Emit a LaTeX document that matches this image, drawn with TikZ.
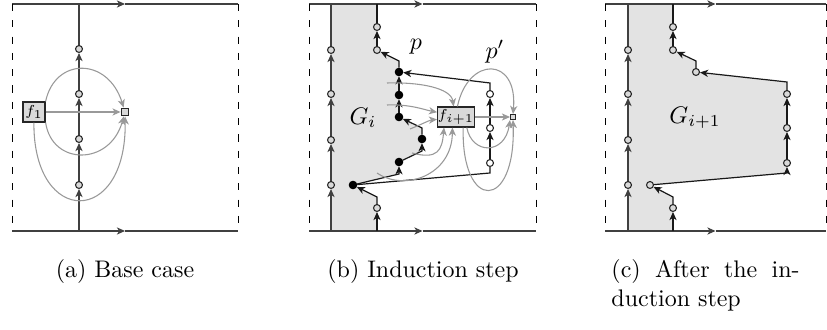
\documentclass[tikz,border=0pt]{standalone}
\usetikzlibrary{arrows.meta}
\begin{document}
\begin{tikzpicture}[x=0.4172pt,y=-0.4172pt,
  >={Stealth[length=3.4pt,width=3pt,inset=1pt]},
  frm/.style={black!75,line width=0.6pt},
  dsh/.style={black,line width=0.4pt,dash pattern=on 3pt off 3.8pt},
  pe/.style={black!90,line width=0.5pt},
  gc/.style={gray!80,line width=0.45pt,->},
  vtx/.style={circle,draw=black!85,line width=0.45pt,fill=gray!30,minimum size=2.9pt,inner sep=0pt},
  wv/.style={vtx,fill=white},
  bd/.style={vtx,fill=black,draw=black,minimum size=3.1pt},
  fb/.style={draw=black!85,line width=0.5pt,fill=gray!30,inner sep=0pt,font=\fontsize{6}{7}\selectfont},
  sqn/.style={draw=black!85,line width=0.4pt,fill=gray!30,inner sep=0pt},
  shd/.style={fill=gray!22}
]
\useasboundingbox (0,0) rectangle (827,330);

% ---------------- Panel A ----------------
\coordinate (Atl) at (12,4);   \coordinate (Atr) at (238,4);
\coordinate (Abl) at (12,231); \coordinate (Abr) at (238,231);
\coordinate (Atm) at (125,4);  \coordinate (Abm) at (125,231);
\draw[frm,->] (Atl) -- (Atm); \draw[frm] (Atm) -- (Atr);
\draw[frm,->] (Abl) -- (Abm); \draw[frm] (Abm) -- (Abr);
\draw[dsh] (Atl) -- (Abl); \draw[dsh] (Atr) -- (Abr);

\coordinate (Avt) at (79,4); \coordinate (Avb) at (79,231);
\node[vtx] (a1) at (79,49) {};
\node[vtx] (a2) at (79,94) {};
\node[vtx] (a3) at (79,139) {};
\node[vtx] (a4) at (79,185) {};
\draw[frm] (a1) -- (Avt);
\draw[frm,->] (Avb) -- (a4);
\draw[frm,->] (a4) -- (a3);
\draw[frm,->] (a3) -- (a2);
\draw[frm,->] (a2) -- (a1);

\node[fb,minimum width=9.2pt,minimum height=8.3pt] (f1) at (34,112) {$f_1$};
\node[sqn,minimum size=3.3pt] (s1) at (125,112) {};
\draw[gc] (f1) -- (s1);
\draw[gc] (f1.north east) .. controls (55,57) and (108,57) .. (s1);
\draw[gc] (f1.south east) .. controls (52,166) and (110,166) .. (s1);
\draw[gc] (f1) .. controls (33,227) and (127,227) .. (s1);

% ---------------- Panel B ----------------
\fill[shd] (331,4) -- (377,4) -- (377,50) -- (399,61) -- (399,117) -- (422,128)
  -- (422,151) -- (399,162) -- (399,174) -- (353,185) -- (377,197) -- (377,231)
  -- (331,231) -- cycle;
\coordinate (Btl) at (309,4);   \coordinate (Btr) at (536,4);
\coordinate (Bbl) at (309,231); \coordinate (Bbr) at (536,231);
\coordinate (Btm) at (422.5,4); \coordinate (Bbm) at (422.5,231);
\draw[frm,->] (Btl) -- (Btm); \draw[frm] (Btm) -- (Btr);
\draw[frm,->] (Bbl) -- (Bbm); \draw[frm] (Bbm) -- (Bbr);
\draw[dsh] (Btl) -- (Bbl); \draw[dsh] (Btr) -- (Bbr);

% left column
\coordinate (BLt) at (331,4); \coordinate (BLb) at (331,231);
\node[vtx] (bl1) at (331,50) {};
\node[vtx] (bl2) at (331,94) {};
\node[vtx] (bl3) at (331,140) {};
\node[vtx] (bl4) at (331,185) {};
\draw[frm] (bl1) -- (BLt);
\draw[frm,->] (BLb) -- (bl4);
\draw[frm,->] (bl4) -- (bl3);
\draw[frm,->] (bl3) -- (bl2);
\draw[frm,->] (bl2) -- (bl1);

% path p
\coordinate (Bpt) at (377,4); \coordinate (Bpb) at (377,231);
\coordinate (Bk1) at (399,61); \coordinate (Bk2) at (422,128);
\coordinate (Bk3) at (422,151); \coordinate (Bk4) at (399,174);
\coordinate (Bk5) at (377,197);
\node[vtx] (bc1) at (377,27) {};
\node[vtx] (bc2) at (377,50) {};
\node[bd] (d1) at (399,72) {};
\node[bd] (d2) at (399,95) {};
\node[bd] (d3) at (399,117) {};
\node[bd] (d4) at (422,139) {};
\node[bd] (d5) at (399,162) {};
\node[bd] (D) at (353,185) {};
\node[vtx] (bc3) at (377,208) {};
\draw[pe] (bc1) -- (Bpt);
\draw[pe,->] (bc2) -- (bc1);
\draw[pe,->] (d1) -- (Bk1) -- (bc2);
\draw[pe,->] (d2) -- (d1);
\draw[pe,->] (d3) -- (d2);
\draw[pe,->] (d4) -- (Bk2) -- (d3);
\draw[pe,->] (d5) -- (Bk3) -- (d4);
\draw[pe,->] (D) -- (Bk4) -- (d5);
\draw[pe,->] (bc3) -- (Bk5) -- (D);
\draw[pe,->] (Bpb) -- (bc3);

% path p'
\coordinate (Bk6) at (490,173); \coordinate (Bk7) at (490,83);
\node[wv] (wc1) at (490,94) {};
\node[wv] (wc2) at (490,128) {};
\node[wv] (wc3) at (490,163) {};
\draw[pe] (D) -- (Bk6) -- (wc3);
\draw[pe,->] (wc3) -- (wc2);
\draw[pe,->] (wc2) -- (wc1);
\draw[pe,->] (wc1) -- (Bk7) -- (d1);

% f_{i+1} and sink
\node[fb,minimum width=14.2pt,minimum height=8.3pt] (F) at (456,117) {$f_{i+1}$};
\node[sqn,minimum size=2.1pt] (s2) at (513,117) {};
\coordinate (c1s) at (387,83);
\coordinate (c2s) at (387,105);
\coordinate (c3s) at (410,129);
\coordinate (c4s) at (412,153);
\coordinate (c5s) at (377,173);
\draw[gc] (c1s) .. controls (420,82) and (451,88) .. ([xshift=-1pt]F.north);
\draw[gc] (c2s) .. controls (410,104) and (425,110) .. ([yshift=2pt]F.west);
\draw[gc] (c3s) .. controls (420,125) and (430,120) .. ([yshift=-1pt]F.west);
\draw[gc] (c4s) .. controls (438,160) and (442,150) .. ([xshift=-5pt]F.south);
\draw[gc] (c5s) .. controls (405,192) and (452,175) .. ([xshift=-1.5pt]F.south);
\draw[gc] (F) -- (s2);
\draw[gc] ([xshift=0.6pt]F.north) .. controls (468,56) and (518,56) .. (s2.north);
\draw[gc] ([xshift=4.5pt]F.south) .. controls (472,155) and (505,155) .. (s2.south west);
\draw[gc] ([xshift=3pt]F.south) .. controls (461,212) and (516,212) .. (s2.south);

\node (lp) at (416,47) {$p$};
\node (lpp) at (495,52) {$p'$};
\node (lGi) at (363,118) {$G_i$};

% ---------------- Panel C ----------------
\fill[shd] (628,4) -- (673,4) -- (673,50) -- (696,61) -- (696,72) -- (787,82)
  -- (787,173) -- (650,185) -- (673,197) -- (673,231) -- (628,231) -- cycle;
\coordinate (Ctl) at (605,4);   \coordinate (Ctr) at (826,4);
\coordinate (Cbl) at (605,231); \coordinate (Cbr) at (826,231);
\coordinate (Ctm) at (715.5,4); \coordinate (Cbm) at (715.5,231);
\draw[frm,->] (Ctl) -- (Ctm); \draw[frm] (Ctm) -- (Ctr);
\draw[frm,->] (Cbl) -- (Cbm); \draw[frm] (Cbm) -- (Cbr);
\draw[dsh] (Ctl) -- (Cbl); \draw[dsh] (Ctr) -- (Cbr);

\coordinate (CLt) at (628,4); \coordinate (CLb) at (628,231);
\node[vtx] (cl1) at (628,50) {};
\node[vtx] (cl2) at (628,94) {};
\node[vtx] (cl3) at (628,140) {};
\node[vtx] (cl4) at (628,185) {};
\draw[frm] (cl1) -- (CLt);
\draw[frm,->] (CLb) -- (cl4);
\draw[frm,->] (cl4) -- (cl3);
\draw[frm,->] (cl3) -- (cl2);
\draw[frm,->] (cl2) -- (cl1);

\coordinate (Cpt) at (673,4); \coordinate (Cpb) at (673,231);
\coordinate (Ck1) at (696,61); \coordinate (Ck2) at (787,82);
\coordinate (Ck3) at (787,173); \coordinate (Ck4) at (673,197);
\node[vtx] (cc1) at (673,27) {};
\node[vtx] (cc2) at (673,50) {};
\node[vtx] (cc3) at (696,72) {};
\node[vtx] (rc1) at (787,94) {};
\node[vtx] (rc2) at (787,128) {};
\node[vtx] (rc3) at (787,163) {};
\node[vtx] (cc4) at (650,185) {};
\node[vtx] (cc5) at (673,208) {};
\draw[pe] (cc1) -- (Cpt);
\draw[pe,->] (cc2) -- (cc1);
\draw[pe,->] (cc3) -- (Ck1) -- (cc2);
\draw[pe,->] (rc1) -- (Ck2) -- (cc3);
\draw[pe,->] (rc2) -- (rc1);
\draw[pe,->] (rc3) -- (rc2);
\draw[pe,->] (cc4) -- (Ck3) -- (rc3);
\draw[pe,->] (cc5) -- (Ck4) -- (cc4);
\draw[pe,->] (Cpb) -- (cc5);

\node (lGi1) at (695,118) {$G_{i+1}$};

% ---------------- Captions ----------------
\node[anchor=base,inner sep=0pt] (capa) at (125,278) {(a) Base case};
\node[anchor=base,inner sep=0pt] (capb) at (423,278) {(b) Induction step};
\node[anchor=base west,inner sep=0pt] (capc1) at (611,278) {\makebox[78.5pt][s]{(c) After the in-}};
\node[anchor=base west,inner sep=0pt] (capc2) at (611,307) {duction step};
\end{tikzpicture}
\end{document}
